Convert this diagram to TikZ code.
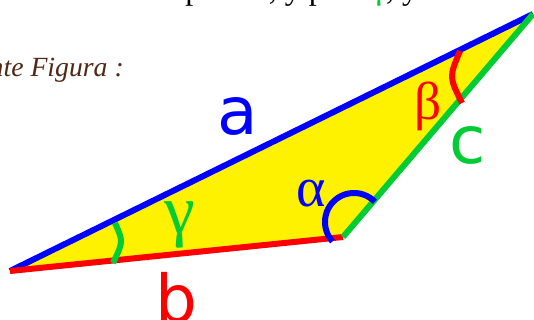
\documentclass[tikz,border=0pt]{standalone}
\usepackage{fontspec}
\setmainfont{Liberation Serif}
\newfontfamily\labelfont{DejaVu Sans}
\definecolor{tgreen}{RGB}{0,204,51}
\definecolor{figbrown}{RGB}{80,40,20}
\tikzset{
  side/.style={line width=4.5pt, line cap=butt},
  anglearc/.style={line width=4.5pt, line cap=butt},
  lab/.style={inner sep=0pt, font=\labelfont\fontsize{49.5pt}{50pt}\selectfont},
  greek/.style={inner sep=0pt, font=\fontsize{42pt}{44pt}\selectfont},
  toptext/.style={inner sep=0pt, font=\fontsize{24pt}{28pt}\selectfont},
}
\begin{document}
\begin{tikzpicture}[x=0.75pt,y=-0.75pt]
\useasboundingbox (0,0) rectangle (534,320);
\clip (0,0) rectangle (534,320);
% top (cut-off) text
\node[toptext, anchor=base east] (t1) at (161,0) {de modo que a cada ángulo le corresponde su lado};
\node[toptext, anchor=base west] (t2) at (169,0) {opuesto, y para \textcolor{tgreen}{γ}, y a \textcolor{tgreen}{c} le corresponde};
\node[inner sep=0pt, anchor=base east, text=figbrown, font=\itshape\fontsize{20.8pt}{24pt}\selectfont] (fig) at (124,77) {en la siguiente Figura :};
% triangle
\coordinate (A) at (10,271);
\coordinate (B) at (533,14);
\coordinate (C) at (343,237);
\fill[yellow] (A) -- (B) -- (C) -- cycle;
\draw[side, blue] (A) -- (B);
\draw[side, red] (A) -- (C);
\draw[side, tgreen] (C) -- (B);
% angle arcs
\draw[anglearc, tgreen] (115,223) .. controls (123.3,241.7) .. (113,263);
\draw[anglearc, red] (460,51) .. controls (449,77) .. (462,103);
\draw[anglearc, blue] plot[domain=44:222, samples=40, smooth] ({354+29*cos(\x)},{222-29*sin(\x)});
% labels
\node[lab, text=blue] (la) at (238,116.5) {a};
\node[lab, text=red, anchor=base] (lb) at (176,322) {b};
\node[lab, text=tgreen] (lc) at (467.5,145) {c};
\node[greek, text=blue] (lalpha) at (311.5,193.5) {α};
\node[greek, text=red, font=\fontsize{40pt}{42pt}\selectfont] (lbeta) at (428,106) {β};
\node[greek, text=tgreen, font=\fontsize{52pt}{54pt}\selectfont] (lgamma) at (180,225) {γ};
\end{tikzpicture}
\end{document}
